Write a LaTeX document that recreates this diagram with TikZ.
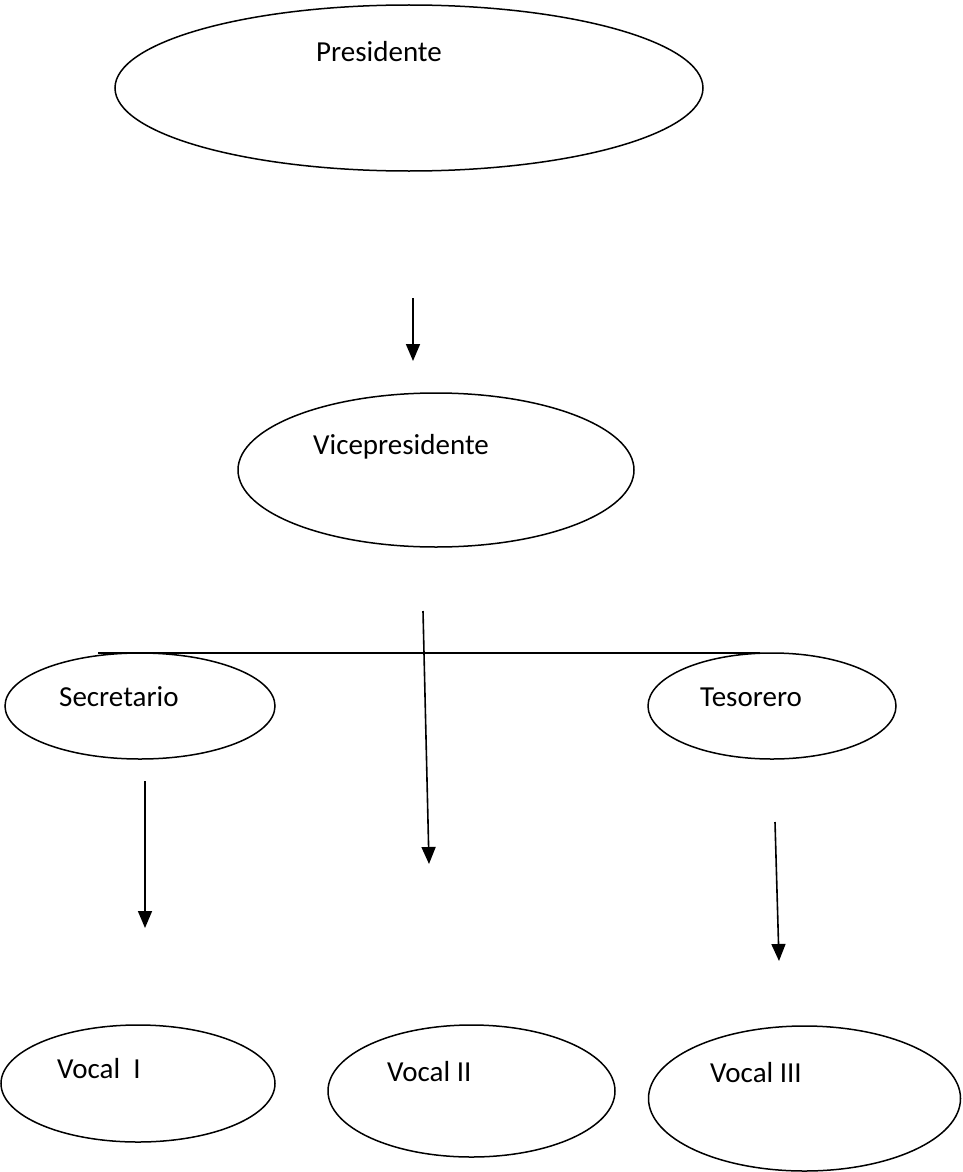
\documentclass[tikz,border=0pt]{standalone}
\usepackage{fontspec}
\setmainfont{Carlito}
\usetikzlibrary{shapes.geometric,arrows.meta}
\tikzset{
  oval/.style={draw=black, line width=1.5pt, ellipse, inner sep=0pt, outer sep=0pt},
  lbl/.style={inner sep=0pt, anchor=base west, font=\fontsize{29pt}{34pt}\selectfont},
  conn/.style={draw=black, line width=1.6pt},
  arr/.style={conn, -{Triangle[length=17pt,width=14pt]}}
}
\begin{document}
\begin{tikzpicture}[x=1pt,y=-1pt]
\useasboundingbox (0,0) rectangle (963,1172);
% ellipses
\node[oval, minimum width=588pt, minimum height=166pt] (pres) at (409,88) {};
\node[oval, minimum width=396pt, minimum height=154pt] (vice) at (436,470) {};
\node[oval, minimum width=270pt, minimum height=106pt] (secr) at (140,706) {};
\node[oval, minimum width=248pt, minimum height=106pt] (teso) at (772,706) {};
\node[oval, minimum width=274pt, minimum height=117pt] (voc1) at (138,1083.5) {};
\node[oval, minimum width=287pt, minimum height=132pt] (voc2) at (471.5,1091) {};
\node[oval, minimum width=312pt, minimum height=145pt] (voc3) at (804.5,1098.5) {};
% labels
\node[lbl] (tpres) at (316,62) {Presidente};
\node[lbl] (tvice) at (313,454) {Vicepresidente};
\node[lbl] (tsecr) at (59,706) {Secretario};
\node[lbl] (tteso) at (700,706) {Tesorero};
\node[lbl] (tvoc1) at (57,1078) {Vocal~~I};
\node[lbl] (tvoc2) at (387,1081) {Vocal II};
\node[lbl] (tvoc3) at (710,1082) {Vocal III};
% connector end points
\coordinate (a1s) at (413,298);
\coordinate (a1e) at (413,361);
\coordinate (a2s) at (423,611);
\coordinate (a2e) at (429,864);
\coordinate (a3s) at (145,781);
\coordinate (a3e) at (145,928);
\coordinate (a4s) at (775,822);
\coordinate (a4e) at (779,961);
\coordinate (hl) at (98,653);
\coordinate (hr) at (760,653);
% connectors
\draw[arr] (a1s) -- (a1e);
\draw[conn] (hl) -- (hr);
\draw[arr] (a2s) -- (a2e);
\draw[arr] (a3s) -- (a3e);
\draw[arr] (a4s) -- (a4e);
\end{tikzpicture}
\end{document}
